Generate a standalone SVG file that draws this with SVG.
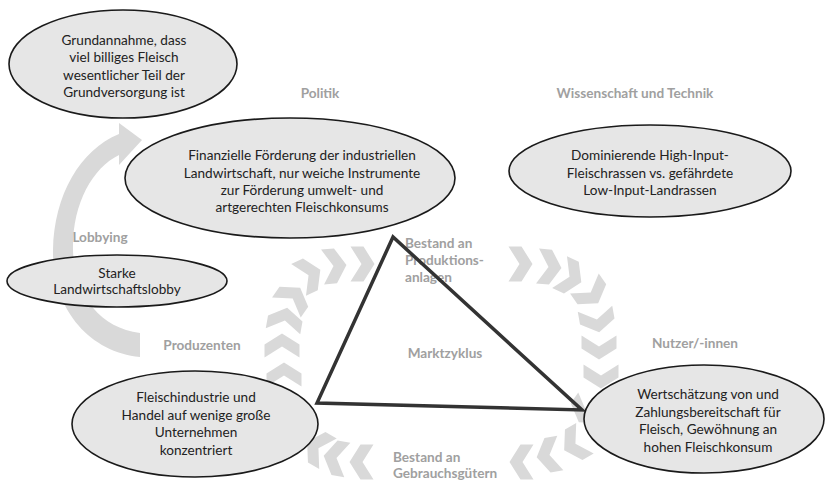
<svg xmlns="http://www.w3.org/2000/svg" xmlns:xlink="http://www.w3.org/1999/xlink" width="826" height="483" viewBox="0 0 826 483">
<defs>
<style>
.node ellipse{fill:#e6e6e6;stroke:#1a1a1a;stroke-width:1.6}
.node text{font-family:Lato,"Liberation Sans",sans-serif;font-size:13.6px;fill:#222;text-anchor:middle}
.lbl{font-family:Lato,"Liberation Sans",sans-serif;font-size:13.6px;font-weight:bold;fill:#a0a0a0}
.mid{text-anchor:middle}
.chev{fill:#d9d9d9}
</style>
<path id="chev" d="M-11.5,-17.5 L1.5,-17.5 L12.5,0 L1.5,17.5 L-11.5,17.5 L-0.5,0 Z"/>
</defs>
<rect width="826" height="483" fill="#fff"/>

<g id="connectors">
<path id="lobbying-arrow" fill="#d9d9d9" d="M140,357 C90,352 52,310 53,250 C54,195 80,150 119,134 L119,123 L142,140 L119,165 L119,155 C92,168 72,205 73,250 C74,295 100,328 140,333 Z"/>
<g id="cycle-chevrons" class="chev">
<use xlink:href="#chev" transform="translate(284,375) rotate(-90)"/>
<use xlink:href="#chev" transform="translate(282,346) rotate(-90)"/>
<use xlink:href="#chev" transform="translate(285,320) rotate(-80)"/>
<use xlink:href="#chev" transform="translate(293,298) rotate(-55)"/>
<use xlink:href="#chev" transform="translate(309,275) rotate(-25)"/>
<use xlink:href="#chev" transform="translate(334,266) rotate(-5)"/>
<use xlink:href="#chev" transform="translate(362,264) rotate(0)"/>
<use xlink:href="#chev" transform="translate(520,264) rotate(0)"/>
<use xlink:href="#chev" transform="translate(549,267) rotate(5)"/>
<use xlink:href="#chev" transform="translate(570,277) rotate(25)"/>
<use xlink:href="#chev" transform="translate(591,293) rotate(55)"/>
<use xlink:href="#chev" transform="translate(597,320) rotate(80)"/>
<use xlink:href="#chev" transform="translate(599,347) rotate(90)"/>
<use xlink:href="#chev" transform="translate(601,376) rotate(90)"/>
<use xlink:href="#chev" transform="translate(586,412) rotate(125)"/>
<use xlink:href="#chev" transform="translate(575,444) rotate(150)"/>
<use xlink:href="#chev" transform="translate(549,455) rotate(170)"/>
<use xlink:href="#chev" transform="translate(522,462) rotate(180)"/>
<use xlink:href="#chev" transform="translate(362,462) rotate(180)"/>
<use xlink:href="#chev" transform="translate(336,458) rotate(190)"/>
<use xlink:href="#chev" transform="translate(318,448) rotate(210)"/>
</g>
</g>

<g id="labels" class="lbl">
<text class="mid" x="320" y="98">Politik</text>
<text class="mid" x="635" y="98">Wissenschaft und Technik</text>
<text class="mid" x="100" y="242">Lobbying</text>
<text class="mid" x="202" y="350">Produzenten</text>
<text class="mid" x="695" y="348">Nutzer/-innen</text>
<text class="mid" x="445" y="358">Marktzyklus</text>
<text x="405" y="248">Bestand an</text>
<text x="405" y="265">Produktions-</text>
<text x="405" y="282">anlagen</text>
<text x="393" y="462">Bestand an</text>
<text x="393" y="478">Gebrauchsgütern</text>
</g>

<g id="market-triangle">
<polygon points="393,237 317,403 582,410" fill="none" stroke="#333" stroke-width="3.5" stroke-linejoin="miter"/>
</g>

<g id="node-grundannahme" class="node">
<ellipse cx="123" cy="64" rx="114" ry="54"/>
<text x="124" y="45">Grundannahme, dass</text>
<text x="124" y="62">viel billiges Fleisch</text>
<text x="124" y="79.5">wesentlicher Teil der</text>
<text x="124" y="97">Grundversorgung ist</text>
</g>

<g id="node-politik" class="node">
<ellipse cx="290" cy="178" rx="165" ry="60"/>
<text x="302" y="160">Finanzielle Förderung der industriellen</text>
<text x="302" y="177.5">Landwirtschaft, nur weiche Instrumente</text>
<text x="302" y="195">zur Förderung umwelt- und</text>
<text x="302" y="212">artgerechten Fleischkonsums</text>
</g>

<g id="node-wissenschaft" class="node">
<ellipse cx="650" cy="171" rx="141" ry="46"/>
<text x="650" y="160">Dominierende High-Input-</text>
<text x="650" y="177.5">Fleischrassen vs. gefährdete</text>
<text x="650" y="195">Low-Input-Landrassen</text>
</g>

<g id="node-lobby" class="node">
<ellipse cx="117" cy="281" rx="110" ry="26"/>
<text x="117" y="278">Starke</text>
<text x="117" y="294">Landwirtschaftslobby</text>
</g>

<g id="node-produzenten" class="node">
<ellipse cx="195" cy="424" rx="123" ry="53"/>
<text x="196" y="402">Fleischindustrie und</text>
<text x="196" y="420">Handel auf wenige große</text>
<text x="196" y="437">Unternehmen</text>
<text x="196" y="455">konzentriert</text>
</g>

<g id="node-nutzer" class="node">
<ellipse cx="704" cy="419" rx="120" ry="54"/>
<text x="708" y="399">Wertschätzung von und</text>
<text x="708" y="417">Zahlungsbereitschaft für</text>
<text x="708" y="434">Fleisch, Gewöhnung an</text>
<text x="708" y="452">hohen Fleischkonsum</text>
</g>
</svg>
